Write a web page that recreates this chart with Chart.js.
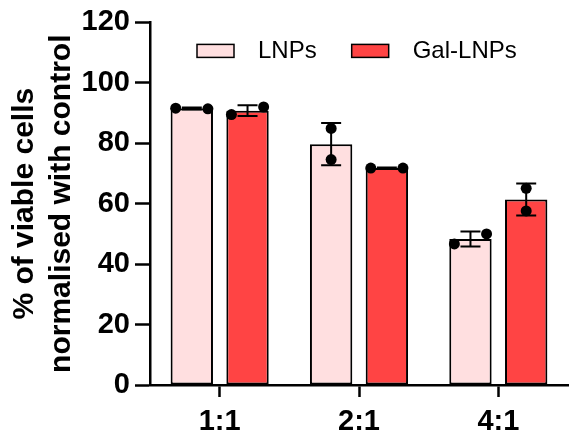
<!DOCTYPE html>
<html lang="en">
<head>
    <meta charset="UTF-8">
    <title>Cell viability</title>
    <script src="https://cdn.jsdelivr.net/npm/chart.js"></script>
    <style>
        body { margin: 0; background: #fff; }
        .chart-box { width: 570px; height: 443px; }
    </style>
</head>
<body>
    <div class="chart-box"><canvas id="viabilityChart"></canvas></div>

    <script>
        // Data (mean, SD, individual replicates)
        const ratios = ['1:1', '2:1', '4:1'];
        const yTicks = [0, 20, 40, 60, 80, 100, 120];

        const lnpMean = [91.5, 79.7, 48.3];
        const lnpSD = [0.3, 7.0, 2.5];
        const lnpPoints = [[91.6, 91.4], [84.9, 74.6], [46.7, 50.0]];

        const galMean = [90.8, 71.8, 61.4];
        const galSD = [1.8, 0.2, 5.3];
        const galPoints = [[89.5, 92.0], [71.8, 71.8], [65.1, 57.6]];

        const FONT = "'Liberation Sans', Arial, sans-serif";

        // error bars + replicate dots, placed from the bar elements and the y scale
        const errorDots = {
            id: 'errorDots',
            afterDatasetsDraw(chart) {
                const ctx = chart.ctx;
                const y = chart.scales.y;
                const extra = [
                    { sd: lnpSD, pts: lnpPoints },
                    { sd: galSD, pts: galPoints }
                ];
                ctx.save();
                ctx.strokeStyle = '#000';
                ctx.fillStyle = '#000';
                ctx.lineWidth = 2;
                chart.data.datasets.forEach((ds, di) => {
                    const meta = chart.getDatasetMeta(di);
                    meta.data.forEach((bar, i) => {
                        const m = ds.data[i];
                        const hi = y.getPixelForValue(m + extra[di].sd[i]);
                        const lo = y.getPixelForValue(m - extra[di].sd[i]);
                        const cap = 10;
                        ctx.beginPath();
                        ctx.moveTo(bar.x, hi); ctx.lineTo(bar.x, lo);
                        ctx.moveTo(bar.x - cap, hi); ctx.lineTo(bar.x + cap, hi);
                        ctx.moveTo(bar.x - cap, lo); ctx.lineTo(bar.x + cap, lo);
                        ctx.stroke();

                        const pts = extra[di].pts[i];
                        const py = pts.map(v => y.getPixelForValue(v));
                        const spread = Math.abs(py[0] - py[1]) < 14;
                        const dx = bar.width * 0.38;
                        py.forEach((p, k) => {
                            const px = spread ? bar.x + (k === 0 ? -dx : dx) : bar.x;
                            ctx.beginPath();
                            ctx.arc(px, p, 5.5, 0, Math.PI * 2);
                            ctx.fill();
                        });
                    });
                });
                ctx.restore();
            }
        };

        // legend drawn inside the plot, like the original figure
        const insideLegend = {
            id: 'insideLegend',
            afterDraw(chart) {
                const ctx = chart.ctx;
                const a = chart.chartArea;
                let x = a.left + 47;
                const top = a.top + 22;
                ctx.save();
                ctx.font = '24px ' + FONT;
                ctx.textBaseline = 'middle';
                chart.data.datasets.forEach(ds => {
                    ctx.fillStyle = ds.backgroundColor;
                    ctx.fillRect(x, top, 37, 13);
                    ctx.strokeStyle = '#000';
                    ctx.lineWidth = 1.5;
                    ctx.strokeRect(x, top, 37, 13);
                    ctx.fillStyle = '#000';
                    ctx.fillText(ds.label, x + 61, top + 7);
                    x += 61 + ctx.measureText(ds.label).width + 35;
                });
                ctx.restore();
            }
        };

        new Chart(document.getElementById('viabilityChart'), {
            type: 'bar',
            data: {
                labels: ratios,
                datasets: [
                    {
                        label: 'LNPs',
                        data: lnpMean,
                        backgroundColor: '#FFDFE0',
                        borderColor: '#000',
                        borderWidth: 2,
                        borderSkipped: false
                    },
                    {
                        label: 'Gal-LNPs',
                        data: galMean,
                        backgroundColor: '#FF4444',
                        borderColor: '#000',
                        borderWidth: 2,
                        borderSkipped: false
                    }
                ]
            },
            options: {
                responsive: true,
                maintainAspectRatio: false,
                animation: false,
                categoryPercentage: 0.8,
                barPercentage: 0.76,
                layout: { padding: { left: 0, right: 2, top: -2, bottom: 0 } },
                plugins: {
                    legend: { display: false },
                    tooltip: { enabled: false }
                },
                scales: {
                    x: {
                        afterFit: s => { s.height = 58; },
                        grid: {
                            offset: false,
                            drawOnChartArea: false,
                            tickLength: 12,
                            tickWidth: 2.5,
                            color: '#000'
                        },
                        border: { color: '#000', width: 2.5 },
                        ticks: {
                            color: '#000',
                            padding: 8,
                            font: { family: FONT, size: 29, weight: 'bold' }
                        }
                    },
                    y: {
                        min: 0,
                        max: 120,
                        afterFit: s => { s.width = 150; },
                        afterBuildTicks: s => { s.ticks = yTicks.map(v => ({ value: v })); },
                        grid: {
                            drawOnChartArea: false,
                            tickLength: 15,
                            tickWidth: 2.5,
                            color: '#000'
                        },
                        border: { color: '#000', width: 2.5 },
                        ticks: {
                            color: '#000',
                            padding: 5,
                            font: { family: FONT, size: 29, weight: 'bold' }
                        },
                        title: {
                            display: true,
                            text: ['% of viable cells', 'normalised with control'],
                            color: '#000',
                            padding: { top: 6 },
                            font: { family: FONT, size: 30, weight: 'bold', lineHeight: 1.23 }
                        }
                    }
                }
            },
            plugins: [errorDots, insideLegend]
        });
    </script>
</body>
</html>
